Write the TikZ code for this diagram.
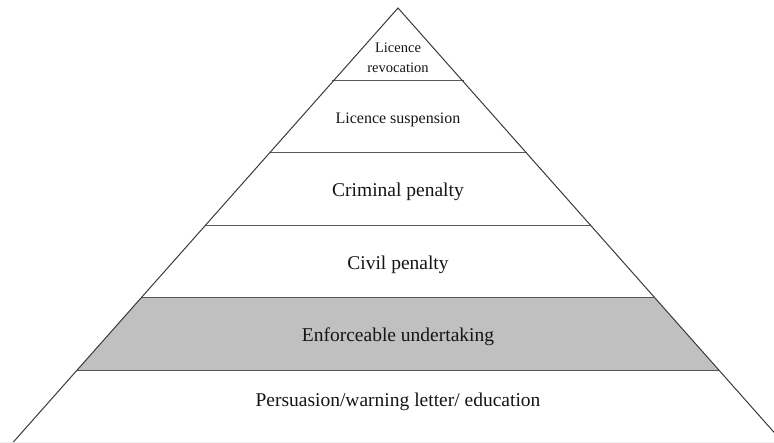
\documentclass[tikz,border=0pt]{standalone}
\usepackage{fontspec}
\setmainfont{Liberation Serif}
\usetikzlibrary{calc}
\definecolor{edgecol}{HTML}{3A3A3A}
\definecolor{bandgray}{HTML}{C0C0C0}
\definecolor{textcol}{HTML}{151515}
\tikzset{
  edge/.style={draw=edgecol, line width=1pt},
  divider/.style={draw=edgecol!85, line width=1pt},
  label/.style={text=textcol, font=\fontsize{19.5}{22}\selectfont, inner sep=0pt, align=center},
  smalllabel/.style={label, font=\fontsize{16}{19}\selectfont},
  tinylabel/.style={label, font=\fontsize{14.5}{20}\selectfont},
}
\begin{document}
\begin{tikzpicture}[x=1pt,y=-1pt]
\useasboundingbox (0,0) rectangle (774,443);
\coordinate (apex) at (398,8);
\coordinate (bl) at (12.5,443);
\coordinate (br) at (783.5,443);
% shaded band
\fill[bandgray] ($(apex)!4/6!(bl)$) -- ($(apex)!4/6!(br)$) -- ($(apex)!5/6!(br)$) -- ($(apex)!5/6!(bl)$) -- cycle;
% dividers
\draw[divider] ($(apex)!1/6!(bl)+(-1.5,0)$) -- ($(apex)!1/6!(br)+(1.5,0)$);
\foreach \t in {2,3,4,5} {
  \draw[divider] ($(apex)!\t/6!(bl)$) -- ($(apex)!\t/6!(br)$);
}
% sides
\draw[edge] (bl) -- (apex) -- (br);
\draw[draw=black!7, line width=1pt] (0,442.5) -- (774,442.5);
% labels
\node[tinylabel] (l1) at (398,58) {Licence\\revocation};
\node[smalllabel] (l2) at (398,120) {Licence suspension};
\node[label] (l3) at (398,192) {Criminal penalty};
\node[label] (l4) at (398,265) {Civil penalty};
\node[label] (l5) at (398,337) {Enforceable undertaking};
\node[label] (l6) at (398,402) {Persuasion/warning letter/ education};
\end{tikzpicture}
\end{document}
